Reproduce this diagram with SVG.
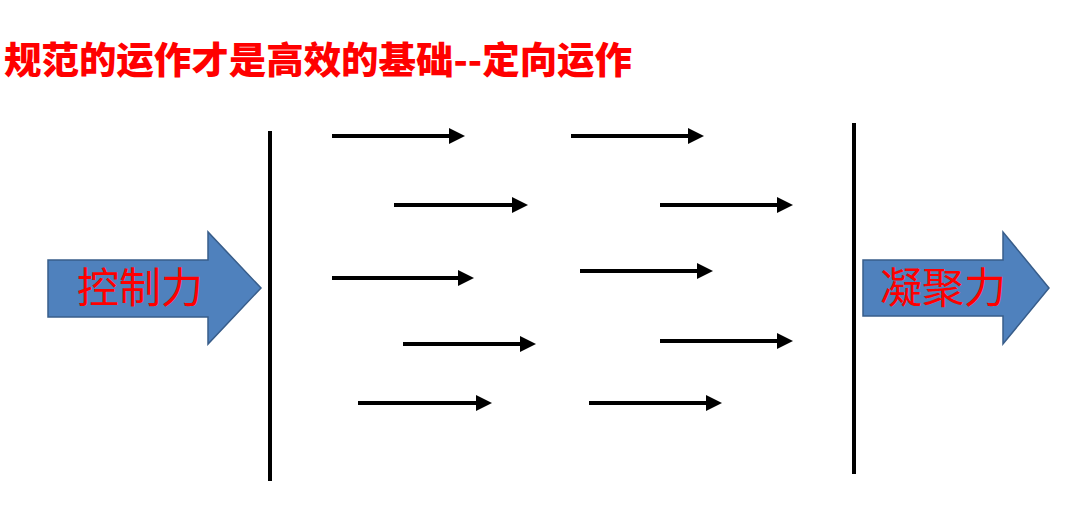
<svg xmlns="http://www.w3.org/2000/svg" width="1080" height="518" viewBox="0 0 1080 518">
<style>
.title{font-family:"Noto Sans CJK SC","Noto Sans",sans-serif;font-weight:900;font-size:37px;fill:#ff0000}
.lbl{font-family:"Noto Sans CJK SC","Noto Sans",sans-serif;font-size:42px;fill:#ff0000;text-anchor:middle}
.big{fill:#4f81bd;stroke:#385d8a;stroke-width:1.5}
.bar{stroke:#000;stroke-width:4;fill:none}
.flow{stroke:#000;stroke-width:4;fill:none;marker-end:url(#ah)}
</style>
<defs>
<marker id="ah" markerWidth="4" markerHeight="4" refX="0" refY="2" orient="auto" markerUnits="strokeWidth" viewBox="0 0 4 4">
<path d="M0,0 L4,2 L0,4 Z" fill="#000"/>
</marker>
</defs>
<rect width="1080" height="518" fill="#fff"/>
<text class="title" x="4" y="74" textLength="628" lengthAdjust="spacingAndGlyphs">规范的运作才是高效的基础--定向运作</text>
<g id="control">
<path class="big" d="M48,260 L208,260 L208,232 L261,288 L208,344 L208,317 L48,317 Z"/>
<text class="lbl" x="140" y="303">控制力</text>
</g>
<g id="cohesion">
<path class="big" d="M863,260 L1003,260 L1003,232 L1049,288 L1003,344 L1003,316 L863,316 Z"/>
<text class="lbl" x="943" y="303">凝聚力</text>
</g>
<g id="left-bar"><line class="bar" x1="270" y1="131" x2="270" y2="481"/></g>
<g id="right-bar"><line class="bar" x1="854" y1="123" x2="854" y2="474"/></g>
<g id="connectors">
<line class="flow" x1="332" y1="136" x2="449" y2="136"/>
<line class="flow" x1="394" y1="205" x2="512" y2="205"/>
<line class="flow" x1="571" y1="136" x2="688" y2="136"/>
<line class="flow" x1="660" y1="205" x2="777" y2="205"/>
<line class="flow" x1="332" y1="278" x2="458" y2="278"/>
<line class="flow" x1="580" y1="271" x2="697" y2="271"/>
<line class="flow" x1="403" y1="344" x2="520" y2="344"/>
<line class="flow" x1="660" y1="341" x2="777" y2="341"/>
<line class="flow" x1="358" y1="403" x2="476" y2="403"/>
<line class="flow" x1="589" y1="403" x2="706" y2="403"/>
</g>
</svg>
